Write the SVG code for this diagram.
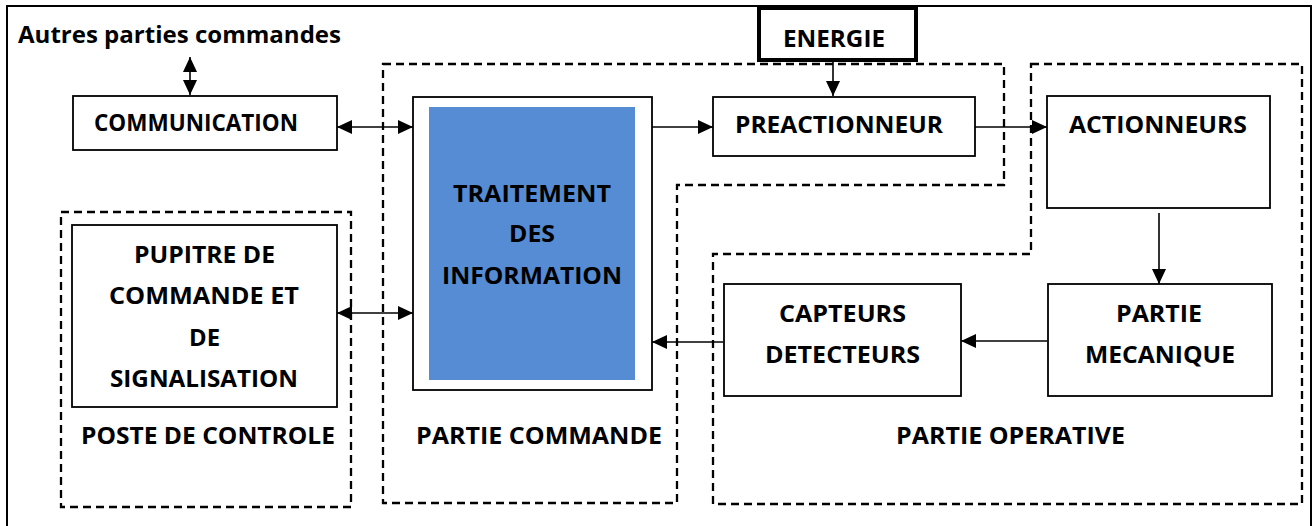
<svg xmlns="http://www.w3.org/2000/svg" width="1316" height="526" viewBox="0 0 1316 526">
  <style>
    .frame { fill: none; stroke: #000; stroke-width: 2; }
    .box { fill: #fff; stroke: #000; stroke-width: 1.8; }
    .zone { fill: none; stroke: #000; stroke-width: 2.3; stroke-dasharray: 8 5; }
    .link { fill: none; stroke: #000; stroke-width: 1.6; }
    text { font-family: "Open Sans", "Liberation Sans", sans-serif; font-weight: 700; font-size: 24px; fill: #000; text-anchor: start; }
  </style>
  <defs>
    <marker id="head" viewBox="0 0 15 14" refX="15" refY="7" markerWidth="15" markerHeight="14" markerUnits="userSpaceOnUse" orient="auto-start-reverse">
      <path d="M0,0 L15,7 L0,14 z" fill="#000"/>
    </marker>
  </defs>

  <rect width="1316" height="526" fill="#fff"/>
  <!-- outer frame (bottom edge runs off the sheet) -->
  <rect class="frame" x="7" y="6" width="1304" height="540"/>

  <!-- dashed zones -->
  <g id="zones">
    <polygon id="zone-commande" class="zone" points="383,64 1004,64 1004,185 677,185 677,503 383,503"/>
    <polygon id="zone-operative" class="zone" points="1031,64 1302,64 1302,504 713,504 713,254 1031,254"/>
    <rect id="zone-poste" class="zone" x="61" y="212" width="290" height="295"/>
  </g>

  <!-- connectors -->
  <g id="connectors">
    <line class="link" x1="190" y1="57" x2="190" y2="95" marker-start="url(#head)" marker-end="url(#head)"/>
    <line class="link" x1="337" y1="127" x2="413" y2="127" marker-start="url(#head)" marker-end="url(#head)"/>
    <line class="link" x1="337" y1="313" x2="413" y2="313" marker-start="url(#head)" marker-end="url(#head)"/>
    <line class="link" x1="652" y1="127" x2="713" y2="127" marker-end="url(#head)"/>
    <line class="link" x1="833" y1="62" x2="833" y2="96" marker-end="url(#head)"/>
    <line class="link" x1="975" y1="127" x2="1047" y2="127" marker-end="url(#head)"/>
    <line class="link" x1="1159" y1="213" x2="1159" y2="284" marker-end="url(#head)"/>
    <line class="link" x1="1047" y1="341" x2="961" y2="341" marker-end="url(#head)"/>
    <line class="link" x1="723" y1="342" x2="652" y2="342" marker-end="url(#head)"/>
  </g>

  <g id="autres">
    <text x="18" y="43" textLength="323" lengthAdjust="spacingAndGlyphs">Autres parties commandes</text>
  </g>

  <g id="energie">
    <rect x="759" y="8" width="157" height="52" fill="#fff" stroke="#000" stroke-width="4"/>
    <text x="783" y="47" textLength="102" lengthAdjust="spacingAndGlyphs">ENERGIE</text>
  </g>

  <g id="communication">
    <rect class="box" x="73" y="96" width="264" height="54"/>
    <text x="94" y="131" textLength="204" lengthAdjust="spacingAndGlyphs">COMMUNICATION</text>
  </g>

  <g id="traitement">
    <rect class="box" x="413" y="97" width="239" height="293"/>
    <rect x="429" y="107" width="206" height="273" fill="#558CD4"/>
    <text x="453" y="202" textLength="158" lengthAdjust="spacingAndGlyphs">TRAITEMENT</text>
    <text x="509" y="242" textLength="46" lengthAdjust="spacingAndGlyphs">DES</text>
    <text x="442" y="284" textLength="180" lengthAdjust="spacingAndGlyphs">INFORMATION</text>
  </g>

  <g id="preactionneur">
    <rect class="box" x="713" y="97" width="262" height="59"/>
    <text x="735" y="133" textLength="208" lengthAdjust="spacingAndGlyphs">PREACTIONNEUR</text>
  </g>

  <g id="actionneurs">
    <rect class="box" x="1047" y="96" width="223" height="112"/>
    <text x="1069" y="133" textLength="178" lengthAdjust="spacingAndGlyphs">ACTIONNEURS</text>
  </g>

  <g id="pupitre">
    <rect class="box" x="72" y="225" width="265" height="182"/>
    <text x="134" y="263" textLength="141" lengthAdjust="spacingAndGlyphs">PUPITRE DE</text>
    <text x="109" y="304" textLength="190" lengthAdjust="spacingAndGlyphs">COMMANDE ET</text>
    <text x="189" y="346" textLength="31" lengthAdjust="spacingAndGlyphs">DE</text>
    <text x="110" y="387" textLength="188" lengthAdjust="spacingAndGlyphs">SIGNALISATION</text>
  </g>

  <g id="capteurs">
    <rect class="box" x="724" y="284" width="237" height="112"/>
    <text x="779" y="322" textLength="127" lengthAdjust="spacingAndGlyphs">CAPTEURS</text>
    <text x="765" y="363" textLength="155" lengthAdjust="spacingAndGlyphs">DETECTEURS</text>
  </g>

  <g id="mecanique">
    <rect class="box" x="1048" y="284" width="224" height="112"/>
    <text x="1116" y="322" textLength="86" lengthAdjust="spacingAndGlyphs">PARTIE</text>
    <text x="1085" y="363" textLength="150" lengthAdjust="spacingAndGlyphs">MECANIQUE</text>
  </g>

  <g id="zone-labels">
    <text x="81" y="444" textLength="254" lengthAdjust="spacingAndGlyphs">POSTE DE CONTROLE</text>
    <text x="416" y="444" textLength="246" lengthAdjust="spacingAndGlyphs">PARTIE COMMANDE</text>
    <text x="896" y="444" textLength="229" lengthAdjust="spacingAndGlyphs">PARTIE OPERATIVE</text>
  </g>
</svg>
